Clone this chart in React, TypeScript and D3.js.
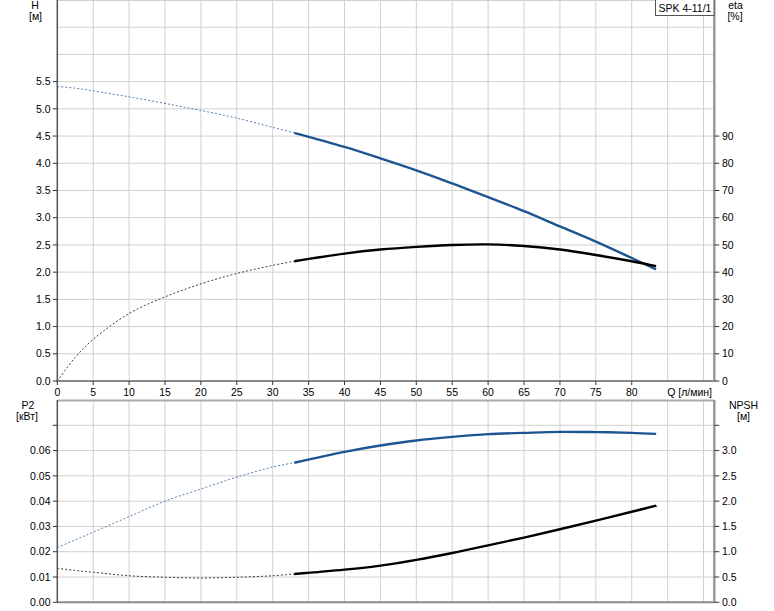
import React from "react";
import * as d3 from "d3";

// ---- data ----
const flow = [0, 2.5, 5, 10, 15, 20, 25, 30, 33, 40, 45, 50, 55, 60, 65, 70, 75, 80, 83.4];
const head = [5.41, 5.38, 5.33, 5.22, 5.1, 4.97, 4.83, 4.66, 4.56, 4.3, 4.09, 3.87, 3.63, 3.38, 3.12, 2.84, 2.56, 2.26, 2.05];
const eta = [0, 8.7, 15.3, 24.8, 30.9, 35.7, 39.5, 42.5, 44.0, 46.8, 48.3, 49.3, 50.0, 50.2, 49.6, 48.3, 46.3, 44.0, 42.2];
const p2 = [0.0216, 0.0247, 0.0277, 0.0339, 0.04, 0.0448, 0.0495, 0.0535, 0.0552, 0.0595, 0.062, 0.064, 0.0654, 0.0665, 0.067, 0.0674, 0.0673, 0.067, 0.0666];
const npsh = [0.67, 0.63, 0.595, 0.525, 0.495, 0.48, 0.495, 0.525, 0.56, 0.645, 0.725, 0.84, 0.975, 1.125, 1.28, 1.445, 1.615, 1.79, 1.91];
const solidFrom = 33; // flow where the operating range starts

const xTicks = [0, 5, 10, 15, 20, 25, 30, 35, 40, 45, 50, 55, 60, 65, 70, 75, 80];
const xGrid = [5, 10, 15, 20, 25, 30, 35, 40, 45, 50, 55, 60, 65, 70, 75, 80, 85, 90];
const hTicks = [0, 0.5, 1, 1.5, 2, 2.5, 3, 3.5, 4, 4.5, 5, 5.5];
const hGrid = [0.5, 1, 1.5, 2, 2.5, 3, 3.5, 4, 4.5, 5, 5.5, 6, 6.5, 7];
const etaTicks = [0, 10, 20, 30, 40, 50, 60, 70, 80, 90];
const p2Ticks = [0, 0.01, 0.02, 0.03, 0.04, 0.05, 0.06];
const p2Extra = [0.07];
const npshTicks = [0, 0.5, 1, 1.5, 2, 2.5, 3];
const npshExtra = [3.5];
const bottomGrid = [0.01, 0.02, 0.03, 0.04, 0.05, 0.06, 0.07];

const title = "SPK 4-11/1";
const xLabel = "Q [л/мин]";

const BLUE = "#1d5593";
const BLACK = "#000";
const GRID = "#d0d0d0";
const FONT = "'Liberation Sans', Arial, sans-serif";
const FS = 10.5;

export default function App() {
  const x = d3.scaleLinear().domain([0, 91.5]).range([57.3, 714.3]);
  const yH = d3.scaleLinear().domain([0, 7]).range([381, 0]);
  const yEta = d3.scaleLinear().domain([0, 140]).range([381, 0]);
  const yP2 = d3.scaleLinear().domain([0, 0.08]).range([602.3, 400]);
  const yN = d3.scaleLinear().domain([0, 4]).range([602.3, 400]);

  const L = x.range()[0];
  const R = x.range()[1];

  const makePaths = (vals: number[], ys: d3.ScaleLinear<number, number>) => {
    const pts: [number, number][] = flow.map((q, i) => [q, vals[i]]);
    const line = d3
      .line<[number, number]>()
      .x((d) => x(d[0]))
      .y((d) => ys(d[1]))
      .curve(d3.curveCatmullRom.alpha(0.5));
    const dashed = pts.filter((p) => p[0] <= solidFrom);
    const solid = pts.filter((p) => p[0] >= solidFrom);
    return { dashed: line(dashed) || "", solid: line(solid) || "" };
  };

  const curves = [
    { ...makePaths(head, yH), color: BLUE },
    { ...makePaths(eta, yEta), color: BLACK },
    { ...makePaths(p2, yP2), color: BLUE },
    { ...makePaths(npsh, yN), color: BLACK },
  ];

  const txt = { fontFamily: FONT, fontSize: FS, fill: "#000" } as const;

  return (
    <svg
      width={774}
      height={611}
      style={{ position: "absolute", left: 0, top: 0, background: "#fff" }}
    >
      <rect x={0} y={0} width={774} height={611} fill="#fff" />
      {/* grid top */}
      {xGrid.map((q) => (
        <line key={"gt" + q} x1={x(q)} x2={x(q)} y1={0} y2={381} stroke={GRID} strokeWidth={1} />
      ))}
      {hGrid.map((h) => (
        <line key={"gh" + h} x1={L} x2={R} y1={Math.max(yH(h), 0.5)} y2={Math.max(yH(h), 0.5)} stroke={GRID} strokeWidth={1} />
      ))}
      {/* grid bottom */}
      {xGrid.map((q) => (
        <line key={"gb" + q} x1={x(q)} x2={x(q)} y1={400} y2={602} stroke={GRID} strokeWidth={1} />
      ))}
      {bottomGrid.map((v) => (
        <line key={"gbh" + v} x1={L} x2={R} y1={yP2(v)} y2={yP2(v)} stroke={GRID} strokeWidth={1} />
      ))}

      {/* curves */}
      {curves.map((c, i) => (
        <g key={"c" + i}>
          <path d={c.dashed} fill="none" stroke={c.color} strokeWidth={1} strokeDasharray="2,2" opacity={0.75} />
          <path d={c.solid} fill="none" stroke={c.color} strokeWidth={2.4} />
        </g>
      ))}

      {/* axes top */}
      <line x1={L} x2={L} y1={0} y2={382} stroke="#555" strokeWidth={1.5} />
      <line x1={L} x2={R} y1={381} y2={381} stroke="#888" strokeWidth={2} />
      <line x1={R} x2={R} y1={0} y2={382} stroke="#999" strokeWidth={2.5} />
      {/* axes bottom */}
      <line x1={L} x2={R} y1={400.5} y2={400.5} stroke="#aaa" strokeWidth={2} />
      <line x1={L} x2={L} y1={400} y2={603} stroke="#555" strokeWidth={1.5} />
      <line x1={L} x2={R} y1={602.3} y2={602.3} stroke="#888" strokeWidth={2} />
      <line x1={R} x2={R} y1={400} y2={603} stroke="#999" strokeWidth={2.5} />

      {/* H ticks */}
      {hTicks.map((h) => (
        <g key={"ht" + h}>
          <line x1={L - 4.5} x2={L} y1={yH(h)} y2={yH(h)} stroke="#333" />
          <text x={50.5} y={yH(h) + 3.7} textAnchor="end" {...txt}>
            {h.toFixed(1)}
          </text>
        </g>
      ))}
      {/* eta ticks */}
      {etaTicks.map((e) => (
        <g key={"et" + e}>
          <line x1={R} x2={R + 5} y1={yEta(e)} y2={yEta(e)} stroke="#333" />
          <text x={722} y={yEta(e) + 3.7} textAnchor="start" {...txt}>
            {e}
          </text>
        </g>
      ))}
      {/* x ticks */}
      {xTicks.map((q) => (
        <g key={"xt" + q}>
          <line x1={x(q)} x2={x(q)} y1={381} y2={385} stroke="#333" />
          <text x={x(q)} y={395.5} textAnchor="middle" {...txt}>
            {q}
          </text>
        </g>
      ))}
      <text x={712} y={395.5} textAnchor="end" {...txt}>
        {xLabel}
      </text>

      {/* P2 ticks */}
      {p2Ticks.map((v) => (
        <g key={"pt" + v}>
          <line x1={L - 4.5} x2={L} y1={yP2(v)} y2={yP2(v)} stroke="#333" />
          <text x={50.5} y={yP2(v) + 3.7} textAnchor="end" {...txt}>
            {v.toFixed(2)}
          </text>
        </g>
      ))}
      {p2Extra.map((v) => (
        <line key={"pe" + v} x1={L - 4.5} x2={L} y1={yP2(v)} y2={yP2(v)} stroke="#333" />
      ))}
      {/* NPSH ticks */}
      {npshTicks.map((v) => (
        <g key={"nt" + v}>
          <line x1={R} x2={R + 5} y1={yN(v)} y2={yN(v)} stroke="#333" />
          <text x={722} y={yN(v) + 3.7} textAnchor="start" {...txt}>
            {v.toFixed(1)}
          </text>
        </g>
      ))}
      {npshExtra.map((v) => (
        <line key={"ne" + v} x1={R} x2={R + 5} y1={yN(v)} y2={yN(v)} stroke="#333" />
      ))}

      {/* axis titles */}
      <text x={35} y={9} textAnchor="middle" {...txt}>H</text>
      <text x={35.5} y={20} textAnchor="middle" {...txt}>[м]</text>
      <text x={735.5} y={9} textAnchor="middle" {...txt}>eta</text>
      <text x={735} y={20} textAnchor="middle" {...txt}>[%]</text>
      <text x={28} y={409} textAnchor="middle" {...txt}>P2</text>
      <text x={27} y={420} textAnchor="middle" {...txt}>[кВт]</text>
      <text x={743.5} y={409} textAnchor="middle" {...txt}>NPSH</text>
      <text x={743.5} y={420} textAnchor="middle" {...txt}>[м]</text>

      {/* legend box */}
      <rect x={655.5} y={-1} width={58.5} height={16.5} fill="#fff" stroke="#555" strokeWidth={1} />
      <text x={658.5} y={11.5} {...txt}>{title}</text>
    </svg>
  );
}
